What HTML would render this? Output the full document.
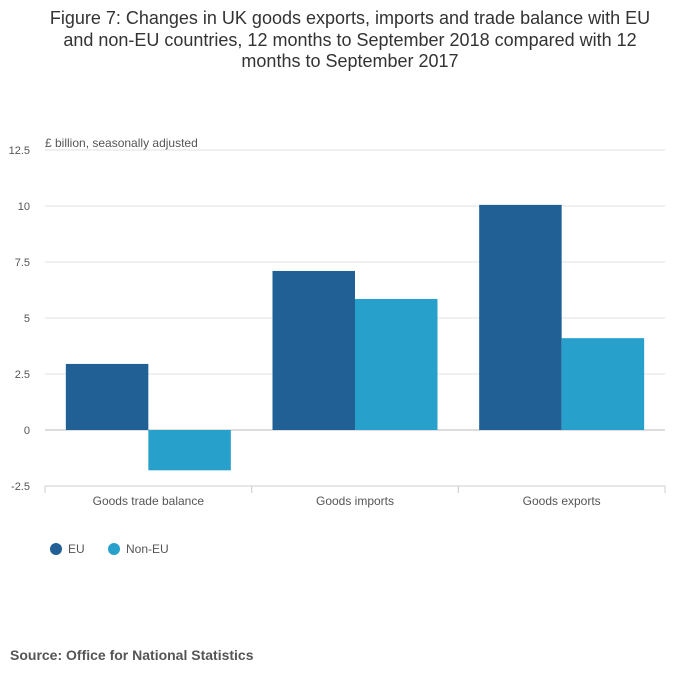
<!DOCTYPE html>
<html><head><meta charset="utf-8"><style>
body{margin:0;background:#fff;font-family:"Liberation Sans",sans-serif;}
#wrap{position:relative;width:700px;height:682px;}
</style></head><body>
<div id="wrap">
<svg id="chart" width="700" height="682" xmlns="http://www.w3.org/2000/svg">
<text x="350" y="24" text-anchor="middle" font-size="18" fill="#333"><tspan x="350" y="24">Figure 7: Changes in UK goods exports, imports and trade balance with EU</tspan><tspan x="350" y="46">and non-EU countries, 12 months to September 2018 compared with 12</tspan><tspan x="350" y="67">months to September 2017</tspan></text>
<text x="45" y="147" font-size="12" fill="#555">£ billion, seasonally adjusted</text>
<g id="grid"></g><g id="bars"></g><g id="xaxis"></g>
<g>
<circle cx="56" cy="549" r="6" fill="#206095"/>
<text x="68" y="553" font-size="12" fill="#555">EU</text>
<circle cx="114" cy="549" r="6" fill="#27a0cc"/>
<text x="126" y="553" font-size="12" fill="#555">Non-EU</text>
</g>
<text x="10" y="660" font-size="14" font-weight="bold" fill="#555">Source: Office for National Statistics</text>
</svg></div>
<script>
const categories=["Goods trade balance","Goods imports","Goods exports"];
const euValues=[2.95,7.1,10.05];
const nonEuValues=[-1.8,5.85,4.1];
const yTicks=[-2.5,0,2.5,5,7.5,10,12.5];
const yTickLabels=["-2.5","0","2.5","5","7.5","10","12.5"];
const NS="http://www.w3.org/2000/svg";
const x0=45,x1=665,yMin=-2.5,yMax=12.5,pTop=150,pBot=486;
function y(v){return pBot-(v-yMin)/(yMax-yMin)*(pBot-pTop);}
const gw=(x1-x0)/categories.length;
function mk(t,a,p){const e=document.createElementNS(NS,t);for(const k in a)e.setAttribute(k,a[k]);p.appendChild(e);return e;}
const grid=document.getElementById('grid'),bars=document.getElementById('bars'),xa=document.getElementById('xaxis');
yTicks.forEach((v,i)=>{
 const l=mk('line',{x1:x0,x2:x1,y1:y(v),y2:y(v),stroke:v===0?'#bbb':'#e0e0e0'},grid);
 
 
 const t=mk('text',{x:30,y:y(v)+4,'text-anchor':'end','font-size':11,fill:'#555'},grid);
 t.textContent=yTickLabels[i];
 
 
});
const bw=82.5,pad=(gw-2*bw)/2;
categories.forEach((c,i)=>{
 const gx=x0+i*gw;
 [[euValues[i],'#206095','eu'],[nonEuValues[i],'#27a0cc','non-eu']].forEach((s,j)=>{
  const v=s[0],top=Math.min(y(v),y(0)),h=Math.abs(y(v)-y(0));
  const r=mk('rect',{x:gx+pad+j*bw,y:top,width:bw,height:h,fill:s[1]},bars);
  
  
 });
 const t=mk('text',{x:gx+gw/2,y:505,'text-anchor':'middle','font-size':12,fill:'#555'},xa);
 t.textContent=c;
 
 
});
const ax=mk('line',{x1:x0,x2:x1,y1:pBot,y2:pBot,stroke:'#ccc'},xa);


for(let i=0;i<=categories.length;i++){
 const tk=mk('line',{x1:x0+i*gw,x2:x0+i*gw,y1:pBot,y2:pBot+7,stroke:'#ccc'},xa);
 
 
}
</script>
</body></html>
